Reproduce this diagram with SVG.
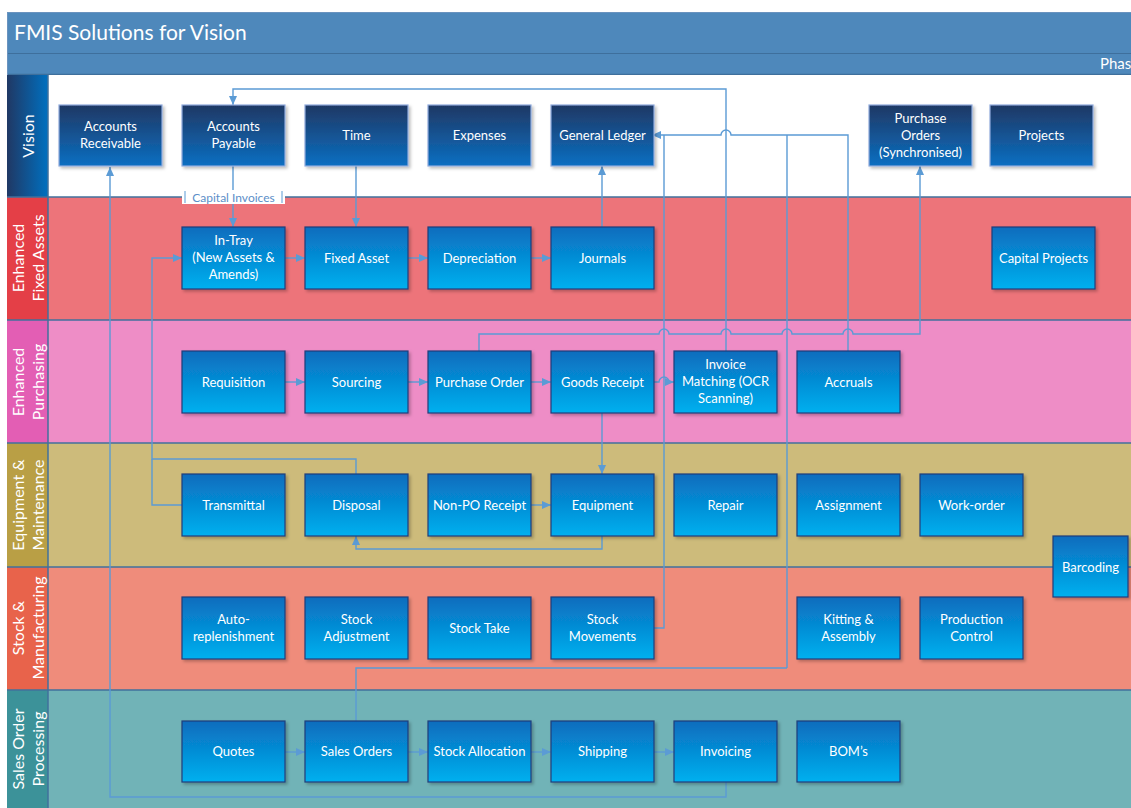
<svg xmlns="http://www.w3.org/2000/svg" width="1131" height="808" viewBox="0 0 1131 808">
<style>
.t{font-family:Lato,"Liberation Sans",sans-serif;font-size:13px;fill:#fff;text-anchor:middle}
.lt{font-family:Lato,"Liberation Sans",sans-serif;font-size:16px;fill:#fff;text-anchor:middle}
.c{fill:none;stroke:#5b9bd5;stroke-width:1.4}
.a{marker-end:url(#ah)}
.bx{fill:url(#gb);stroke:#1f3d7a;stroke-width:1.2;filter:url(#sh)}
.vx{fill:url(#gv);stroke:#8faadc;stroke-width:1.2;filter:url(#sh)}
.ln{stroke:#41719c;stroke-width:1.5}
</style>
<defs>
<linearGradient id="gb" x1="0" y1="0" x2="0" y2="1"><stop offset="0" stop-color="#0a6cbd"/><stop offset="1" stop-color="#00b0ef"/></linearGradient>
<linearGradient id="gv" x1="0" y1="0" x2="0" y2="1"><stop offset="0" stop-color="#203864"/><stop offset="1" stop-color="#0a6fc2"/></linearGradient>
<linearGradient id="gh" x1="0" y1="0" x2="1" y2="0"><stop offset="0" stop-color="#203864"/><stop offset="1" stop-color="#0070c0"/></linearGradient>
<filter id="sh" x="-10%" y="-10%" width="130%" height="130%"><feDropShadow dx="2" dy="2" stdDeviation="1.5" flood-color="#000" flood-opacity="0.25"/></filter>
<marker id="ah" markerWidth="9" markerHeight="8" refX="9" refY="4" orient="auto" markerUnits="userSpaceOnUse"><path d="M0,0 L9,4 L0,8 z" fill="#5b9bd5"/></marker>
</defs>
<rect width="1131" height="808" fill="#fff"/>
<g id="frame">
<rect x="7" y="12" width="1130" height="42" fill="#4e88bb"/>
<rect x="7" y="53" width="1130" height="22" fill="#4e88bb"/>
<line x1="7" y1="53.5" x2="1131" y2="53.5" stroke="#3e6f9c" stroke-width="1.2"/>
<line x1="7" y1="74.5" x2="1131" y2="74.5" stroke="#3e6f9c" stroke-width="1.5"/>
<rect x="7.5" y="12.5" width="1130" height="795" fill="none" stroke="#6a93bf" stroke-width="1"/>
<text x="14" y="40" font-family="Lato,'Liberation Sans',sans-serif" font-size="21" fill="#fff">FMIS Solutions for Vision</text>
<text x="1100" y="69" font-family="Lato,'Liberation Sans',sans-serif" font-size="15" fill="#fff">Phas</text>
</g>
<g id="lanes">
<rect x="48" y="75" width="1083" height="122" fill="#fff"/>
<rect x="48" y="197" width="1083" height="123" fill="#ed747a"/>
<rect x="48" y="320" width="1083" height="123" fill="#ee8dc6"/>
<rect x="48" y="443" width="1083" height="124" fill="#cdbb7b"/>
<rect x="48" y="567" width="1083" height="123" fill="#ef8c7b"/>
<rect x="48" y="690" width="1083" height="118" fill="#71b3b7"/>
<rect x="7" y="75" width="41" height="122" fill="url(#gh)"/>
<rect x="7" y="197" width="41" height="123" fill="#e43f47"/>
<rect x="7" y="320" width="41" height="123" fill="#e35eb4"/>
<rect x="7" y="443" width="41" height="124" fill="#b99f45"/>
<rect x="7" y="567" width="41" height="123" fill="#e8634b"/>
<rect x="7" y="690" width="41" height="118" fill="#3c9299"/>
<line class="ln" x1="7" y1="197" x2="1131" y2="197"/>
<line class="ln" x1="7" y1="320" x2="1131" y2="320"/>
<line class="ln" x1="7" y1="443" x2="1131" y2="443"/>
<line class="ln" x1="7" y1="567" x2="1131" y2="567"/>
<line class="ln" x1="7" y1="690" x2="1131" y2="690"/>
<line class="ln" x1="48" y1="75" x2="48" y2="808"/>
<text class="lt" transform="translate(28,136) rotate(-90)" y="5.5">Vision</text>
<text class="lt" transform="translate(28,258) rotate(-90)"><tspan x="0" y="-4.5">Enhanced</tspan><tspan x="0" y="15.5">Fixed Assets</tspan></text>
<text class="lt" transform="translate(28,382) rotate(-90)"><tspan x="0" y="-4.5">Enhanced</tspan><tspan x="0" y="15.5">Purchasing</tspan></text>
<text class="lt" transform="translate(28,505) rotate(-90)"><tspan x="0" y="-4.5">Equipment &amp;</tspan><tspan x="0" y="15.5">Maintenance</tspan></text>
<text class="lt" transform="translate(28,628) rotate(-90)"><tspan x="0" y="-4.5">Stock &amp;</tspan><tspan x="0" y="15.5">Manufacturing</tspan></text>
<text class="lt" transform="translate(28,749) rotate(-90)"><tspan x="0" y="-4.5">Sales Order</tspan><tspan x="0" y="15.5">Processing</tspan></text>
</g>
<g id="connectors">
<path class="c a" d="M726,782 V797 H110 V167"/>
<path class="c a" d="M726,351 V89 H233 V105"/>
<path class="c a" d="M233,166 V227"/>
<path class="c a" d="M356,166 V227"/>
<path class="c a" d="M602,227 V166"/>
<path class="c a" d="M848,351 V135 H731 a5,5 0 0 0 -10,0 H652"/>
<path class="c" d="M787,668 V135"/>
<path class="c" d="M356,721 V668 H787"/>
<path class="c" d="M654,628 H664 V135"/>
<path class="c a" d="M479,351 V334 H659 a5,5 0 0 1 10,0 H721 a5,5 0 0 1 10,0 H782 a5,5 0 0 1 10,0 H843 a5,5 0 0 1 10,0 H920 V166"/>
<path class="c a" d="M654,382 H659 a5,5 0 0 1 10,0 H674"/>
<path class="c a" d="M602,413 V474"/>
<path class="c a" d="M602,536 V549 H356 V536"/>
<path class="c a" d="M356,474 V459 H152 V258 H182"/>
<path class="c" d="M182,505 H152 V459"/>
<path class="c a" d="M285,258 H305"/>
<path class="c a" d="M408,258 H428"/>
<path class="c a" d="M531,258 H551"/>
<path class="c a" d="M285,382 H305"/>
<path class="c a" d="M408,382 H428"/>
<path class="c a" d="M531,382 H551"/>
<path class="c a" d="M531,505 H551"/>
<path class="c a" d="M285,752 H305"/>
<path class="c a" d="M408,752 H428"/>
<path class="c a" d="M531,752 H551"/>
<path class="c a" d="M654,752 H674"/>
<rect x="182" y="190" width="103" height="14" fill="#fff"/>
<line x1="185" y1="191" x2="185" y2="203" stroke="#5b9bd5" stroke-width="1"/>
<line x1="282" y1="191" x2="282" y2="203" stroke="#5b9bd5" stroke-width="1"/>
<text x="233.5" y="201.5" font-family="Lato,'Liberation Sans',sans-serif" font-size="12" fill="#5b8ec8" text-anchor="middle">Capital Invoices</text>
</g>
<g id="n-ar"><rect class="vx" x="59" y="105" width="103" height="61"/><text class="t" x="110.5"><tspan x="110.5" y="131">Accounts</tspan><tspan x="110.5" y="148">Receivable</tspan></text></g>
<g id="n-ap"><rect class="vx" x="182" y="105" width="103" height="61"/><text class="t"><tspan x="233.5" y="131">Accounts</tspan><tspan x="233.5" y="148">Payable</tspan></text></g>
<g id="n-time"><rect class="vx" x="305" y="105" width="103" height="61"/><text class="t" x="356.5" y="140">Time</text></g>
<g id="n-exp"><rect class="vx" x="428" y="105" width="103" height="61"/><text class="t" x="479.5" y="140">Expenses</text></g>
<g id="n-gl"><rect class="vx" x="551" y="105" width="103" height="61"/><text class="t" x="602.5" y="140">General Ledger</text></g>
<g id="n-pos"><rect class="vx" x="869" y="105" width="103" height="61"/><text class="t"><tspan x="920.5" y="123">Purchase</tspan><tspan x="920.5" y="140">Orders</tspan><tspan x="920.5" y="157">(Synchronised)</tspan></text></g>
<g id="n-proj"><rect class="vx" x="990" y="105" width="103" height="61"/><text class="t" x="1041.5" y="140">Projects</text></g>
<g id="n-intray"><rect class="bx" x="182" y="227" width="103" height="62"/><text class="t"><tspan x="233.5" y="245">In-Tray</tspan><tspan x="233.5" y="262">(New Assets &amp;</tspan><tspan x="233.5" y="279">Amends)</tspan></text></g>
<g id="n-fa"><rect class="bx" x="305" y="227" width="103" height="62"/><text class="t" x="356.5" y="262.5">Fixed Asset</text></g>
<g id="n-dep"><rect class="bx" x="428" y="227" width="103" height="62"/><text class="t" x="479.5" y="262.5">Depreciation</text></g>
<g id="n-jnl"><rect class="bx" x="551" y="227" width="103" height="62"/><text class="t" x="602.5" y="262.5">Journals</text></g>
<g id="n-cp"><rect class="bx" x="992" y="227" width="103" height="62"/><text class="t" x="1043.5" y="262.5">Capital Projects</text></g>
<g id="n-req"><rect class="bx" x="182" y="351" width="103" height="62"/><text class="t" x="233.5" y="386.5">Requisition</text></g>
<g id="n-src"><rect class="bx" x="305" y="351" width="103" height="62"/><text class="t" x="356.5" y="386.5">Sourcing</text></g>
<g id="n-po"><rect class="bx" x="428" y="351" width="103" height="62"/><text class="t" x="479.5" y="386.5">Purchase Order</text></g>
<g id="n-gr"><rect class="bx" x="551" y="351" width="103" height="62"/><text class="t" x="602.5" y="386.5">Goods Receipt</text></g>
<g id="n-im"><rect class="bx" x="674" y="351" width="103" height="62"/><text class="t"><tspan x="725.5" y="369">Invoice</tspan><tspan x="725.5" y="386">Matching (OCR</tspan><tspan x="725.5" y="403">Scanning)</tspan></text></g>
<g id="n-acc"><rect class="bx" x="797" y="351" width="103" height="62"/><text class="t" x="848.5" y="386.5">Accruals</text></g>
<g id="n-trn"><rect class="bx" x="182" y="474" width="103" height="62"/><text class="t" x="233.5" y="509.5">Transmittal</text></g>
<g id="n-dis"><rect class="bx" x="305" y="474" width="103" height="62"/><text class="t" x="356.5" y="509.5">Disposal</text></g>
<g id="n-npo"><rect class="bx" x="428" y="474" width="103" height="62"/><text class="t" x="479.5" y="509.5">Non-PO Receipt</text></g>
<g id="n-eq"><rect class="bx" x="551" y="474" width="103" height="62"/><text class="t" x="602.5" y="509.5">Equipment</text></g>
<g id="n-rep"><rect class="bx" x="674" y="474" width="103" height="62"/><text class="t" x="725.5" y="509.5">Repair</text></g>
<g id="n-asg"><rect class="bx" x="797" y="474" width="103" height="62"/><text class="t" x="848.5" y="509.5">Assignment</text></g>
<g id="n-wo"><rect class="bx" x="920" y="474" width="103" height="62"/><text class="t" x="971.5" y="509.5">Work-order</text></g>
<g id="n-bar"><rect class="bx" x="1053" y="536" width="75" height="61"/><text class="t" x="1090.5" y="571.5">Barcoding</text></g>
<g id="n-auto"><rect class="bx" x="182" y="597" width="103" height="62"/><text class="t"><tspan x="233.5" y="624">Auto-</tspan><tspan x="233.5" y="641">replenishment</tspan></text></g>
<g id="n-sadj"><rect class="bx" x="305" y="597" width="103" height="62"/><text class="t"><tspan x="356.5" y="624">Stock</tspan><tspan x="356.5" y="641">Adjustment</tspan></text></g>
<g id="n-stk"><rect class="bx" x="428" y="597" width="103" height="62"/><text class="t" x="479.5" y="632.5">Stock Take</text></g>
<g id="n-smov"><rect class="bx" x="551" y="597" width="103" height="62"/><text class="t"><tspan x="602.5" y="624">Stock</tspan><tspan x="602.5" y="641">Movements</tspan></text></g>
<g id="n-kit"><rect class="bx" x="797" y="597" width="103" height="62"/><text class="t"><tspan x="848.5" y="624">Kitting &amp;</tspan><tspan x="848.5" y="641">Assembly</tspan></text></g>
<g id="n-pc"><rect class="bx" x="920" y="597" width="103" height="62"/><text class="t"><tspan x="971.5" y="624">Production</tspan><tspan x="971.5" y="641">Control</tspan></text></g>
<g id="n-quo"><rect class="bx" x="182" y="721" width="103" height="61"/><text class="t" x="233.5" y="756">Quotes</text></g>
<g id="n-so"><rect class="bx" x="305" y="721" width="103" height="61"/><text class="t" x="356.5" y="756">Sales Orders</text></g>
<g id="n-sa"><rect class="bx" x="428" y="721" width="103" height="61"/><text class="t" x="479.5" y="756">Stock Allocation</text></g>
<g id="n-shp"><rect class="bx" x="551" y="721" width="103" height="61"/><text class="t" x="602.5" y="756">Shipping</text></g>
<g id="n-inv"><rect class="bx" x="674" y="721" width="103" height="61"/><text class="t" x="725.5" y="756">Invoicing</text></g>
<g id="n-bom"><rect class="bx" x="797" y="721" width="103" height="61"/><text class="t" x="848.5" y="756">BOM’s</text></g>
</svg>
